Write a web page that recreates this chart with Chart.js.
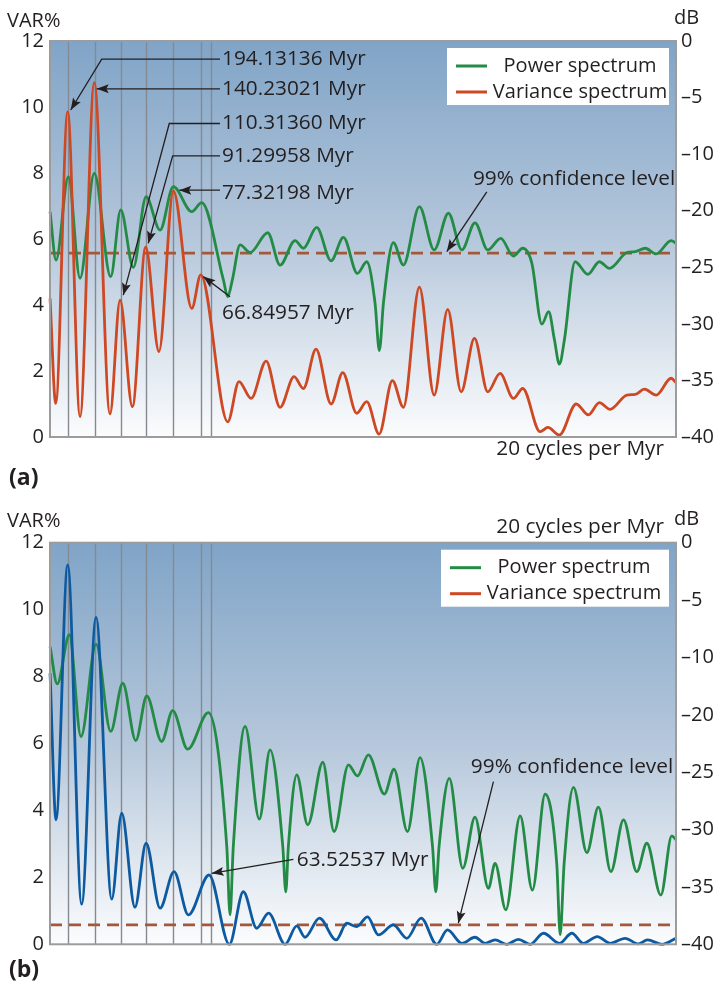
<!DOCTYPE html>
<html><head><meta charset="utf-8">
<script src="https://cdn.jsdelivr.net/npm/chart.js@4/dist/chart.umd.min.js"></script>
<style>
html,body{margin:0;padding:0;background:#fff;}
#wrap{position:relative;width:717px;height:989px;overflow:hidden;}
.box{position:absolute;left:0;width:717px;}
</style></head><body>
<div id="wrap">
<div class="box" style="top:0;height:490px"><canvas id="ca" width="717" height="490" style="width:717px;height:490px"></canvas></div>
<div class="box" style="top:490px;height:499px"><canvas id="cb" width="717" height="499" style="width:717px;height:499px"></canvas></div>
</div>
<script>
// ---------- data (x: frequency, cycles per Gyr; y: VAR% scale) ----------
const periodsMyr = [194.13136, 140.23021, 110.31360, 91.29958, 77.32198, 66.84957, 63.52537];
const dbTickLabels = ['0','\u20135','\u201310','\u201320','\u201325','\u201330','\u201335','\u201340'];
const legendLabels = ['Power spectrum','Variance spectrum'];

const powerA = [[3.85,6.83],[4.29,5.36],[5.20,7.89],[6.06,4.81],[7.11,7.99],[8.32,4.86],[9.06,6.88],[9.99,5.14],[10.93,7.28],[11.96,6.27],[12.94,7.59],[14.30,6.83],[15.03,7.10],[16.63,4.76],[16.95,4.25],[17.29,4.76],[17.86,5.82],[18.60,5.59],[19.90,6.19],[20.81,5.21],[21.91,5.95],[22.53,5.72],[23.51,6.35],[24.57,5.34],[25.48,6.05],[26.51,4.96],[27.20,5.31],[27.81,4.06],[28.13,2.62],[28.43,4.06],[29.16,5.89],[29.90,5.21],[31.08,6.98],[32.17,5.67],[33.22,6.78],[34.21,5.67],[35.18,6.49],[36.12,5.67],[37.08,6.02],[38.01,5.48],[38.70,5.72],[39.37,5.27],[40.11,3.42],[40.61,3.80],[41.04,2.94],[41.40,2.21],[41.77,2.94],[42.56,5.31],[43.50,4.93],[44.35,5.31],[45.09,5.11],[46.38,5.59],[46.99,5.62],[47.73,5.72],[48.54,5.55],[49.64,5.95],[50.0,5.87]];
const varianceA = [[3.85,4.2],[4.27,1.02],[5.15,9.86],[6.06,0.62],[7.11,10.74],[8.27,0.70],[9.01,4.15],[9.92,0.92],[10.90,5.75],[11.88,2.59],[12.94,7.46],[14.30,3.90],[14.96,4.91],[16.95,0.46],[17.78,1.68],[18.67,1.17],[19.78,2.30],[20.81,0.90],[21.84,1.83],[22.53,1.47],[23.46,2.66],[24.57,1.00],[25.43,1.95],[26.46,0.72],[27.20,1.07],[28.11,0.09],[29.09,1.71],[29.90,0.90],[31.08,4.54],[32.17,1.27],[33.17,3.87],[34.16,1.37],[35.14,2.99],[36.12,1.37],[37.03,1.93],[38.01,1.17],[38.70,1.47],[39.98,0.16],[40.55,0.29],[41.40,0.06],[42.64,1.00],[43.54,0.67],[44.35,1.04],[45.14,0.84],[46.38,1.27],[46.99,1.29],[47.67,1.45],[48.54,1.27],[49.64,1.78],[50.0,1.65]];
const confidenceA = 5.57;

const powerB = [[3.85,8.90],[4.38,7.78],[5.27,9.25],[6.13,6.21],[7.24,8.97],[8.32,6.36],[9.21,7.80],[10.17,6.09],[10.98,7.42],[12.08,6.06],[12.89,6.98],[14.00,5.83],[15.52,6.92],[16.88,2.92],[17.12,0.88],[17.36,2.92],[18.23,6.51],[19.28,3.74],[20.07,5.81],[21.01,2.92],[21.23,1.57],[21.42,2.92],[22.04,5.06],[22.85,3.57],[23.96,5.44],[24.79,3.37],[25.85,5.36],[26.51,5.03],[27.32,5.66],[28.50,4.49],[29.21,5.23],[30.20,3.37],[31.13,5.58],[32.05,2.92],[32.29,1.57],[32.53,2.92],[33.29,4.96],[34.28,2.27],[35.18,3.80],[36.17,1.67],[36.66,2.42],[37.45,1.03],[38.51,3.84],[39.41,1.62],[40.35,4.49],[41.21,2.40],[41.46,0.28],[41.75,2.40],[42.44,4.69],[43.43,2.74],[44.28,4.10],[45.20,2.17],[46.13,3.72],[47.11,2.17],[47.85,3.02],[48.88,1.47],[49.69,3.24],[50.0,3.12]];
const varianceB = [[3.85,8.10],[4.29,3.72],[5.15,11.34],[6.18,1.20],[7.24,9.77],[8.40,1.35],[9.13,3.92],[10.11,1.11],[10.93,3.02],[11.96,1.08],[12.99,2.17],[14.05,0.88],[15.57,2.07],[17.07,0.0],[18.10,1.57],[19.09,0.48],[19.96,0.93],[21.18,0.0],[22.04,0.55],[22.65,0.21],[23.71,0.78],[24.94,0.13],[25.73,0.63],[26.46,0.53],[27.26,0.82],[28.06,0.28],[29.16,0.58],[30.15,0.18],[31.21,0.78],[32.36,0.0],[33.15,0.43],[34.21,0.03],[35.18,0.21],[35.93,0.03],[36.66,0.13],[37.53,0.0],[38.38,0.15],[39.24,0.0],[40.23,0.33],[41.40,0.03],[42.32,0.33],[43.17,0.03],[44.20,0.23],[45.14,0.03],[46.25,0.18],[47.23,0.01],[47.90,0.13],[48.96,0.0],[50.0,0.18]];
const confidenceB = 0.58;

const freqMin = 3.846, freqMax = 50;

// ---------- styling ----------
const COL = {green:'#238b45', red:'#cd4823', blue:'#0d5aa0', dash:'#a4583b', text:'#231f20', vline:'#858a92', border:'#9c9c9c'};
const FONT = "'Open Sans','Noto Sans',sans-serif";

function arrowPath(ctx, pts){
  ctx.beginPath();
  ctx.moveTo(pts[0][0], pts[0][1]);
  for (let i=1;i<pts.length;i++) ctx.lineTo(pts[i][0], pts[i][1]);
  ctx.stroke();
  const [x1,y1] = pts[pts.length-2], [x2,y2] = pts[pts.length-1];
  const a = Math.atan2(y2-y1, x2-x1), L = 12, W = 4.5;
  const c = Math.cos(a), s = Math.sin(a);
  ctx.beginPath();
  ctx.moveTo(x2,y2);
  ctx.lineTo(x2 - L*c + W*s, y2 - L*s - W*c);
  ctx.lineTo(x2 - L*c*0.8, y2 - L*s*0.8);
  ctx.lineTo(x2 - L*c - W*s, y2 - L*s + W*c);
  ctx.closePath();
  ctx.fill();
}

function makeChart(id, cfg){
  const decor = {
    id: 'decor_'+id,
    beforeDraw(chart){
      const {ctx, chartArea:a} = chart;
      const g = ctx.createLinearGradient(0,a.top,0,a.bottom);
      g.addColorStop(0,'#80a4c7');
      g.addColorStop(0.5,'#b5c7db');
      g.addColorStop(1,'#fbfcfd');
      ctx.save(); ctx.fillStyle = g; ctx.fillRect(a.left,a.top,a.width,a.height); ctx.restore();
    },
    beforeDatasetsDraw(chart){
      const {ctx, chartArea:a, scales} = chart;
      ctx.save(); ctx.strokeStyle = COL.vline; ctx.lineWidth = 1.4;
      periodsMyr.forEach(p => {
        const x = Math.round(scales.x.getPixelForValue(1000/p))+0.5;
        ctx.beginPath(); ctx.moveTo(x,a.top); ctx.lineTo(x,a.bottom); ctx.stroke();
      });
      ctx.restore();
    },
    afterDraw(chart){
      const {ctx, chartArea:a, scales} = chart;
      const X = v => scales.x.getPixelForValue(v), Y = v => scales.y.getPixelForValue(v);
      ctx.save();
      // frame
      ctx.strokeStyle = COL.border; ctx.lineWidth = 2;
      ctx.strokeRect(a.left, a.top, a.width, a.height);
      // legend
      const bw = cfg.legendW, bh = 57, bx = a.right - 7 - bw, by = a.top + 7;
      ctx.fillStyle = '#fff'; ctx.fillRect(bx, by, bw, bh);
      ctx.font = '20px ' + FONT; ctx.textBaseline = 'middle'; ctx.textAlign = 'center';
      [COL.green, COL.red].forEach((c,i) => {
        const yy = by + 18 + i*26;
        ctx.strokeStyle = c; ctx.lineWidth = 3;
        ctx.beginPath(); ctx.moveTo(bx+9, yy); ctx.lineTo(bx+40, yy); ctx.stroke();
        ctx.fillStyle = COL.text; ctx.fillText(legendLabels[i], bx + 133, yy);
      });
      // annotations
      ctx.strokeStyle = COL.text; ctx.fillStyle = COL.text; ctx.lineWidth = 1.3;
      ctx.font = '20.8px ' + FONT;
      cfg.notes.forEach(n => {
        arrowPath(ctx, n.line.map(p => [X(p[0]), Y(p[1])]));
        ctx.textAlign = n.align || 'left';
        ctx.fillText(n.text, X(n.at[0]), Y(n.at[1]));
      });
      // titles
      ctx.textAlign = 'left'; ctx.font = '20px ' + FONT;
      ctx.fillText('VAR%', 7, cfg.varY);
      ctx.fillText('dB', 674, cfg.dbY);
      ctx.font = '20.8px ' + FONT; ctx.textAlign = 'right';
      ctx.fillText('20 cycles per Myr', 664, cfg.cycY);
      ctx.font = 'bold 23px ' + FONT; ctx.textAlign = 'left';
      ctx.fillText(cfg.panel, 9, cfg.panelY);
      ctx.restore();
    }
  };
  return new Chart(document.getElementById(id), {
    type: 'line',
    data: { datasets: [
      { data: cfg.variance, borderColor: cfg.varColor, borderWidth: 2.8, pointRadius: 0, cubicInterpolationMode: 'monotone', clip: false, yAxisID: 'y' },
      { data: cfg.power, borderColor: COL.green, borderWidth: 2.8, pointRadius: 0, cubicInterpolationMode: 'monotone', clip: false, yAxisID: 'y' },
      { data: [[freqMin, cfg.conf],[freqMax, cfg.conf]], borderColor: COL.dash, borderWidth: 2.8, borderDash: [12,7], pointRadius: 0, yAxisID: 'y' }
    ]},
    options: {
      responsive: false, animation: false, events: [],
      layout: { padding: { top: cfg.padTop, bottom: cfg.padBottom, left: 0, right: 0 } },
      plugins: { legend: { display: false }, tooltip: { enabled: false } },
      scales: {
        x: { type: 'linear', min: freqMin, max: freqMax, display: false },
        y: { type: 'linear', position: 'left', min: 0, max: 12,
             grid: { display: false, drawTicks: false }, border: { display: false },
             ticks: { stepSize: 2, padding: 6, color: COL.text, font: { family: FONT, size: 20 } },
             afterFit: s => { s.width = 50; } },
        yR: { type: 'linear', position: 'right', min: 0, max: 7, reverse: true,
             grid: { display: false, drawTicks: false }, border: { display: false },
             ticks: { stepSize: 1, padding: 5, color: COL.text, font: { family: FONT, size: 20 },
                      callback: v => dbTickLabels[v] },
             afterFit: s => { s.width = 41; } }
      }
    },
    plugins: [decor]
  });
}

makeChart('ca', {
  power: powerA, variance: varianceA, conf: confidenceA, varColor: COL.red,
  padTop: 41, padBottom: 53, legendW: 222,
  varY: 21, dbY: 18, cycY: 449, panel: '(a)', panelY: 478,
  notes: [
    { text: '194.13136 Myr', at: [16.53, 11.45], line: [[16.38,11.45],[7.66,11.45],[5.37,9.91]] },
    { text: '140.23021 Myr', at: [16.53, 10.53], line: [[16.38,10.55],[7.29,10.55]] },
    { text: '110.31360 Myr', at: [16.53, 9.50], line: [[16.38,9.50],[12.64,9.50],[9.25,4.30]] },
    { text: '91.29958 Myr',  at: [16.53, 8.52], line: [[16.38,8.52],[12.89,8.52],[11.09,5.87]] },
    { text: '77.32198 Myr',  at: [16.53, 7.38], line: [[16.38,7.48],[13.38,7.48]] },
    { text: '66.84957 Myr',  at: [16.53, 3.75], line: [[17.12,4.25],[15.15,4.86]] },
    { text: '99% confidence level', align: 'right', at: [49.94, 7.82], line: [[36.05,7.43],[33.10,5.62]] }
  ]
});

makeChart('cb', {
  power: powerB, variance: varianceB, conf: confidenceB, varColor: COL.blue,
  padTop: 52.7, padBottom: 44.7, legendW: 228,
  varY: 31, dbY: 29, cycY: 37, panel: '(b)', panelY: 480,
  notes: [
    { text: '63.52537 Myr', at: [22.04, 2.52], line: [[21.79,2.54],[15.77,2.12]] },
    { text: '99% confidence level', align: 'right', at: [49.79, 5.31], line: [[36.54,4.86],[33.95,0.63]] }
  ]
});
</script>
</body></html>
